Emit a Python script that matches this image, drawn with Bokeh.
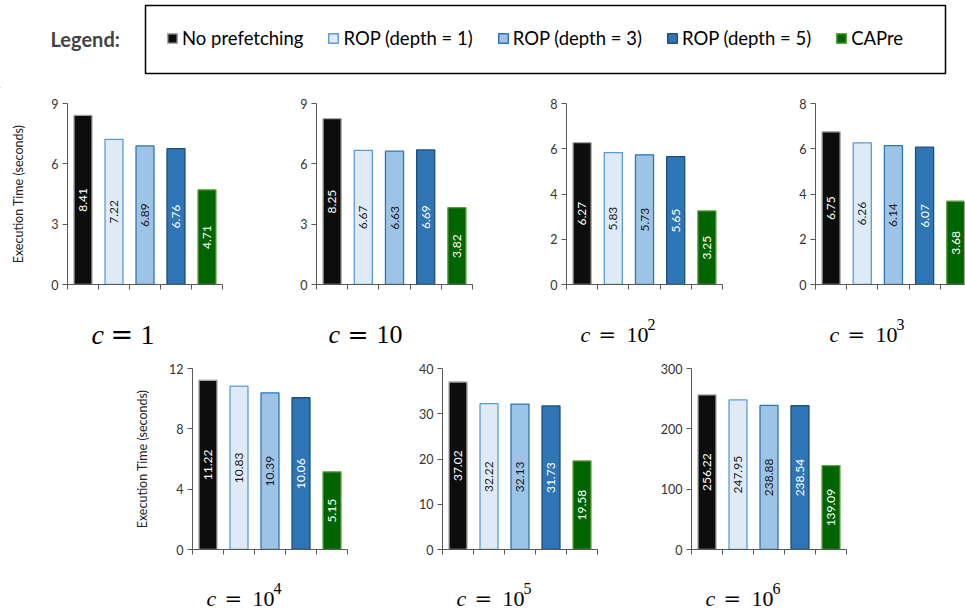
import math

from bokeh.core.properties import value
from bokeh.embed import file_html
from bokeh.layouts import column, row
from bokeh.models import (BoxAnnotation, ColumnDataSource, FixedTicker, Label,
                          Legend, LegendItem, Range1d, Spacer)
from bokeh.plotting import figure
from bokeh.resources import INLINE

# ---- data -----------------------------------------------------------------
methods = ["No prefetching", "ROP (depth = 1)", "ROP (depth = 3)",
           "ROP (depth = 5)", "CAPre"]

time_c1 = [8.41, 7.22, 6.89, 6.76, 4.71]
time_c10 = [8.25, 6.67, 6.63, 6.69, 3.82]
time_c1e2 = [6.27, 5.83, 5.73, 5.65, 3.25]
time_c1e3 = [6.75, 6.26, 6.14, 6.07, 3.68]
time_c1e4 = [11.22, 10.83, 10.39, 10.06, 5.15]
time_c1e5 = [37.02, 32.22, 32.13, 31.73, 19.58]
time_c1e6 = [256.22, 247.95, 238.88, 238.54, 139.09]

y_max = [9, 9, 8, 8, 12, 40, 300]
y_ticks = [[0, 3, 6, 9], [0, 3, 6, 9], [0, 2, 4, 6, 8], [0, 2, 4, 6, 8],
           [0, 4, 8, 12], [0, 10, 20, 30, 40], [0, 100, 200, 300]]
c_base = ["1", "10", "10", "10", "10", "10", "10"]
c_exp = ["", "", "2", "3", "4", "5", "6"]

# ---- styles ---------------------------------------------------------------
fill_colors = ["#0d0d0d", "#deebf7", "#9dc3e6", "#2e75b6", "#006400"]
line_colors = ["#a6a6a6", "#5b9bd5", "#2e75b6", "#1f4e79", "#5e9e3c"]
text_colors = ["#ffffff", "#1a1a1a", "#1a1a1a", "#ffffff", "#ffffff"]
AXIS_COL = "#595959"
TICK_TEXT = "#333333"
FRAME_H = 181
SERIF = "Liberation Serif"
PAGE_W = 965


def strip(height):
    """A bare full-width canvas whose data units are pixels."""
    s = figure(width=PAGE_W, height=height, x_range=Range1d(0, PAGE_W),
               y_range=Range1d(0, height), x_axis_type=None,
               y_axis_type=None, output_backend="svg", toolbar_location=None,
               min_border=0)
    s.outline_line_color = None
    s.xgrid.visible = False
    s.ygrid.visible = False
    return s


def add_caption(s, base, exp, pos, size, baseline):
    """Caption 'c = 10^k' on a caption strip."""
    c_x, eq_x, num_x, exp_x = pos
    common = dict(text_color="#000000", text_baseline="alphabetic",
                  text_align="left")
    s.add_layout(Label(x=c_x, y=baseline, text="c", text_font=SERIF,
                       text_font_style="italic", text_font_size=f"{size}px",
                       **common))
    s.add_layout(Label(x=eq_x, y=baseline, text="=", text_font="DejaVu Serif",
                       text_font_size=f"{round(size * 0.95)}px", **common))
    s.add_layout(Label(x=num_x, y=baseline, text=base, text_font=SERIF,
                       text_font_size=f"{size}px", **common))
    if exp:
        s.add_layout(Label(x=exp_x, y=baseline + 10, text=exp,
                           text_font=SERIF,
                           text_font_size=f"{round(size * 0.72)}px", **common))


def make_panel(values, ymax, yticks, width, left, right, top, bottom, xend,
               ylabel=False, ylabel_standoff=20):
    p = figure(width=width, height=top + FRAME_H + bottom,
               x_range=Range1d(0, xend), y_range=Range1d(0, ymax),
               output_backend="svg", toolbar_location=None,
               min_border_left=left, min_border_right=right,
               min_border_top=top, min_border_bottom=bottom)
    p.outline_line_color = None
    p.xgrid.visible = False
    p.ygrid.visible = False

    src = ColumnDataSource(dict(
        x=[i + 0.5 for i in range(len(values))],
        top=values,
        mid=[v / 2 for v in values],
        fill=fill_colors,
        line=line_colors,
        tcol=text_colors,
        label=[f"{v:.2f}" for v in values],
    ))
    p.vbar(x="x", top="top", bottom=0, width=0.58, fill_color="fill",
           line_color="line", line_width=1.3, source=src)
    p.text(x="x", y="mid", text="label", angle=math.pi / 2,
           text_align="center", text_baseline="middle", text_color="tcol",
           text_font=value("Lato"), text_font_size="12px", source=src)

    xa = p.xaxis[0]
    xa.ticker = FixedTicker(ticks=[0, 1, 2, 3, 4, 5])
    xa.major_label_overrides = {0: "", 1: "", 2: "", 3: "", 4: "", 5: ""}
    xa.major_tick_in = 0
    xa.major_tick_out = 5
    xa.minor_tick_line_color = None
    xa.axis_line_color = AXIS_COL
    xa.major_tick_line_color = AXIS_COL

    ya = p.yaxis[0]
    ya.ticker = FixedTicker(ticks=yticks)
    ya.major_tick_in = 0
    ya.major_tick_out = 5
    ya.minor_tick_line_color = None
    ya.axis_line_color = AXIS_COL
    ya.major_tick_line_color = AXIS_COL
    ya.major_label_text_font = "Lato"
    ya.major_label_text_font_size = "12.5px"
    ya.major_label_text_color = TICK_TEXT
    ya.major_label_standoff = 4
    if ylabel:
        ya.axis_label = "Execution Time (seconds)"
        ya.axis_label_text_font = "Lato"
        ya.axis_label_text_font_size = "12.5px"
        ya.axis_label_text_font_style = "normal"
        ya.axis_label_text_color = "#222222"
        ya.axis_label_standoff = ylabel_standoff
    return p


# ---- legend strip ---------------------------------------------------------
leg = strip(88)
leg.add_layout(BoxAnnotation(left=145, right=945, bottom=15, top=83,
                             fill_alpha=0, line_color="#000000",
                             line_alpha=1, line_width=1.5))
items = []
for name, fc, lc in zip(methods, fill_colors, line_colors):
    r = leg.vbar(x=[-50], top=[0], width=1, fill_color=fc, line_color=lc,
                 line_width=1.5)
    items.append(LegendItem(label=name, renderers=[r]))
legend = Legend(items=items, orientation="horizontal", location=(166, 39),
                glyph_width=12, glyph_height=12, label_standoff=4, spacing=24,
                padding=0, margin=0, border_line_color=None,
                background_fill_alpha=0, label_text_font="Lato",
                label_text_font_size="18.5px", label_text_color="#000000",
                label_height=20)
leg.add_layout(legend, "center")
leg.add_layout(Label(x=50, y=50, text="Legend:", text_font="Lato",
                     text_font_style="bold", text_font_size="20px",
                     text_baseline="middle", text_align="left"))

# ---- panels ---------------------------------------------------------------
p1 = make_panel(time_c1, y_max[0], y_ticks[0], 250, 67, 28, 15, 16, 5,
                ylabel=True, ylabel_standoff=22)
p2 = make_panel(time_c10, y_max[1], y_ticks[1], 250, 66, 28, 15, 16, 5)
p3 = make_panel(time_c1e2, y_max[2], y_ticks[2], 250, 66, 28, 15, 16, 5)
p4 = make_panel(time_c1e3, y_max[3], y_ticks[3], 215, 65, 1, 15, 16, 4.78)
p5 = make_panel(time_c1e4, y_max[4], y_ticks[4], 250, 67, 28, 13, 16, 5,
                ylabel=True, ylabel_standoff=16)
p6 = make_panel(time_c1e5, y_max[5], y_ticks[5], 250, 67, 28, 13, 16, 5)
p7 = make_panel(time_c1e6, y_max[6], y_ticks[6], 250, 66, 29, 13, 16, 5)

# ---- captions -------------------------------------------------------------
cap1 = strip(55)
add_caption(cap1, c_base[0], c_exp[0], (91, 110, 140, 0), 28, 21)
add_caption(cap1, c_base[1], c_exp[1], (328, 347, 376, 0), 26, 21)
add_caption(cap1, c_base[2], c_exp[2], (580, 598, 626, 647), 22, 21)
add_caption(cap1, c_base[3], c_exp[3], (829, 847, 875, 896), 22, 21)

cap2 = strip(49)
add_caption(cap2, c_base[4], c_exp[4], (206, 224, 252, 273), 22, 16)
add_caption(cap2, c_base[5], c_exp[5], (456, 474, 502, 523), 22, 16)
add_caption(cap2, c_base[6], c_exp[6], (705, 723, 751, 772), 22, 16)

layout = column(
    leg,
    row(p1, p2, p3, p4, spacing=0),
    cap1,
    row(Spacer(width=125, height=210), p5, p6, p7, spacing=0),
    cap2,
    spacing=0,
)

open("out.html", "w").write(file_html(layout, INLINE))
